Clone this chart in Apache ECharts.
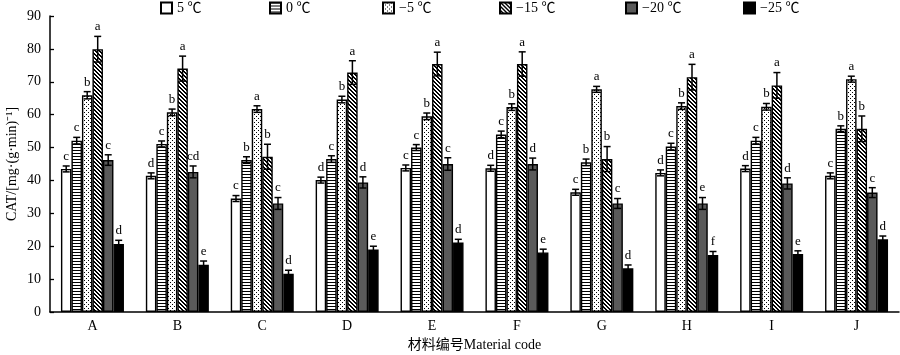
<!DOCTYPE html>
<html>
<head>
<meta charset="utf-8">
<script src="https://cdn.jsdelivr.net/npm/echarts@6/dist/echarts.min.js"></script>
<style>
html,body{margin:0;padding:0;background:#fff;}
#chart{width:900px;height:355px;}
</style>
</head>
<body>
<div id="chart"></div>
<script>
// ---- data ----
var categories = ['A','B','C','D','E','F','G','H','I','J'];
var seriesNames = ['5 ℃','0 ℃','−5 ℃','−15 ℃','−20 ℃','−25 ℃'];

var values_5   = [43.5, 41.4, 34.5, 40.1, 43.8, 43.7, 36.4, 42.3, 43.6, 41.4];
var values_0   = [52.1, 51.1, 46.2, 46.5, 50.0, 54.0, 45.5, 50.3, 52.1, 55.7];
var values_m5  = [65.9, 60.7, 61.7, 64.6, 59.5, 62.3, 67.7, 62.6, 62.4, 70.8];
var values_m15 = [79.9, 74.0, 47.2, 72.8, 75.4, 75.4, 46.5, 71.4, 68.9, 55.7];
var values_m20 = [46.2, 42.6, 33.0, 39.4, 45.0, 45.0, 33.0, 33.0, 39.1, 36.3];
var values_m25 = [20.7, 14.4, 11.6, 19.0, 21.1, 18.1, 13.3, 17.3, 17.6, 22.1];

var errors_5   = [0.9, 0.9, 0.9, 0.9, 0.9, 0.9, 0.9, 0.9, 0.9, 0.9];
var errors_0   = [1.0, 0.9, 1.0, 1.0, 0.9, 1.0, 1.0, 1.0, 1.0, 0.9];
var errors_m5  = [1.1, 1.0, 1.0, 1.0, 1.0, 1.0, 0.9, 1.0, 1.0, 0.9];
var errors_m15 = [3.9, 3.8, 3.8, 3.6, 3.6, 3.7, 3.8, 3.9, 3.9, 3.9];
var errors_m20 = [1.6, 1.8, 1.8, 1.7, 1.9, 1.8, 1.5, 1.8, 1.7, 1.5];
var errors_m25 = [1.1, 1.1, 1.1, 1.0, 1.0, 1.0, 1.0, 1.1, 1.0, 1.0];

var letters_5   = ['c','d','c','d','c','d','c','d','d','c'];
var letters_0   = ['c','c','b','c','c','c','b','c','c','b'];
var letters_m5  = ['b','b','a','b','b','b','a','b','b','a'];
var letters_m15 = ['a','a','b','a','a','a','b','a','a','b'];
var letters_m20 = ['c','cd','c','d','c','d','c','e','d','c'];
var letters_m25 = ['d','e','d','e','d','e','d','f','e','d'];

var yTicks = [0,10,20,30,40,50,60,70,80,90];

var allValues  = [values_5, values_0, values_m5, values_m15, values_m20, values_m25];
var allErrors  = [errors_5, errors_0, errors_m5, errors_m15, errors_m20, errors_m25];
var allLetters = [letters_5, letters_0, letters_m5, letters_m15, letters_m20, letters_m25];

// ---- patterns ----
function makeCanvas(w, h, draw) {
  var c = document.createElement('canvas');
  c.width = w; c.height = h;
  var ctx = c.getContext('2d');
  ctx.fillStyle = '#fff';
  ctx.fillRect(0, 0, w, h);
  ctx.fillStyle = '#000';
  draw(ctx);
  return c;
}
var stripeCanvas = makeCanvas(4, 3, function (ctx) { ctx.fillRect(0, 0, 4, 1); });
var dotCanvas = makeCanvas(4, 4, function (ctx) { ctx.fillRect(0, 0, 1, 1); ctx.fillRect(2, 2, 1, 1); });
var hatchCanvas = makeCanvas(4, 4, function (ctx) {
  for (var y = 0; y < 4; y++) { ctx.fillRect(y, y, 1, 1); ctx.fillRect((y + 1) % 4, y, 1, 1); }
});

var fills = [
  '#ffffff',
  { image: stripeCanvas, repeat: 'repeat' },
  { image: dotCanvas, repeat: 'repeat' },
  { image: hatchCanvas, repeat: 'repeat' },
  '#5a5a5a',
  '#000000'
];

var BAR_W = 10.5;
var FONT = '"Liberation Serif", "Times New Roman", "Noto Sans CJK SC", serif';

var series = [];
seriesNames.forEach(function (name, i) {
  series.push({
    name: name,
    type: 'bar',
    barWidth: BAR_W,
    barGap: '0%',
    data: allValues[i],
    itemStyle: { color: fills[i], borderColor: '#000', borderWidth: 1.4 },
    emphasis: { disabled: true },
    z: 2
  });
});

// error bar data: [catIndex, seriesIndex, value, error, letter]
var errData = [];
allValues.forEach(function (vals, s) {
  vals.forEach(function (v, c) {
    errData.push([c, s, v, allErrors[s][c], allLetters[s][c]]);
  });
});

series.push({
  type: 'custom',
  name: 'err',
  data: errData,
  z: 5,
  silent: true,
  encode: { x: 0, y: 2 },
  renderItem: function (params, api) {
    var c = api.value(0), s = api.value(1), v = api.value(2), e = api.value(3);
    var letter = errData[params.dataIndex][4];
    var cx = api.coord([c, 0])[0] + (s - 2.5) * BAR_W;
    var yTop = api.coord([c, v + e])[1];
    var yBot = api.coord([c, v - e])[1];
    var hw = 3.5;
    var ls = { stroke: '#000', lineWidth: 1.5 };
    return {
      type: 'group',
      children: [
        { type: 'line', shape: { x1: cx, y1: yTop, x2: cx, y2: yBot }, style: ls },
        { type: 'line', shape: { x1: cx - hw, y1: yTop, x2: cx + hw, y2: yTop }, style: ls },
        { type: 'line', shape: { x1: cx - hw, y1: yBot, x2: cx + hw, y2: yBot }, style: ls },
        { type: 'text', x: cx, y: yTop - 3,
          style: { text: letter, fill: '#000', font: '13px ' + FONT, align: 'center', verticalAlign: 'bottom' } }
      ]
    };
  }
});

var legendLefts = [160, 269, 382, 499, 625, 743];
var legends = seriesNames.map(function (n, i) {
  return {
    data: [{ name: n, icon: 'rect' }],
    left: legendLefts[i],
    top: 1,
    itemWidth: 11,
    itemHeight: 11,
    padding: 0,
    selectedMode: false,
    textStyle: { fontFamily: FONT, fontSize: 14, color: '#000' }
  };
});

var chart = echarts.init(document.getElementById('chart'), null, { renderer: 'canvas' });
chart.setOption({
  animation: false,
  backgroundColor: '#fff',
  legend: legends,
  grid: { left: 50, right: 1, top: 16, bottom: 43, containLabel: false, outerBoundsMode: 'none' },
  xAxis: {
    type: 'category',
    data: categories,
    boundaryGap: true,
    name: '材料编号Material code',
    nameLocation: 'middle',
    nameGap: 26,
    nameMoveOverlap: false,
    nameTextStyle: { fontFamily: FONT, fontSize: 14, color: '#000' },
    axisLine: { lineStyle: { color: '#000', width: 1.5 } },
    axisTick: { inside: true, length: 4, interval: 0, lineStyle: { color: '#000', width: 1.3 } },
    axisLabel: { fontFamily: FONT, fontSize: 14, color: '#000', margin: 7, interval: 0 },
    splitLine: { show: false }
  },
  yAxis: {
    type: 'value',
    min: yTicks[0],
    max: yTicks[yTicks.length - 1],
    interval: yTicks[1] - yTicks[0],
    name: 'CAT/[mg·(g·min)⁻¹]',
    nameLocation: 'middle',
    nameGap: 31,
    nameMoveOverlap: false,
    nameRotate: 90,
    nameTextStyle: { fontFamily: FONT, fontSize: 14, color: '#000' },
    axisLine: { show: true, lineStyle: { color: '#000', width: 1.5 } },
    axisTick: { show: true, inside: true, length: 4, lineStyle: { color: '#000', width: 1.3 } },
    axisLabel: { fontFamily: FONT, fontSize: 14, color: '#000', margin: 9 },
    splitLine: { show: false }
  },
  series: series
});
</script>
</body>
</html>
